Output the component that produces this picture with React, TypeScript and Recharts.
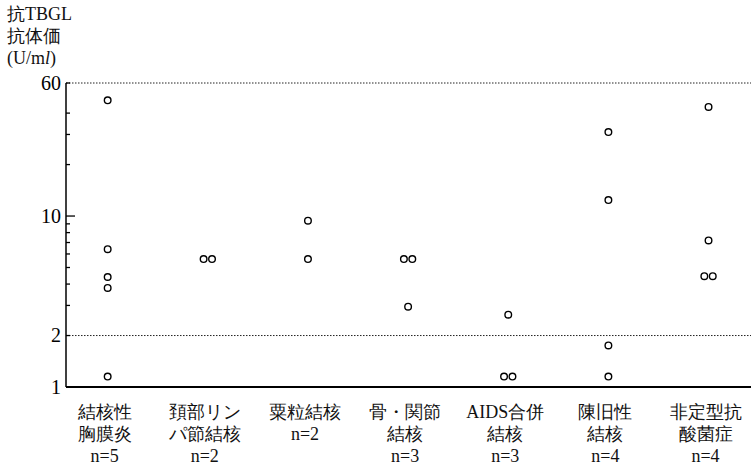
import React from 'react';
import { ScatterChart, Scatter, XAxis, YAxis, ReferenceLine } from 'recharts';

// categories (x axis) and the antibody values
const categories = [
  ['結核性', '胸膜炎', 'n=5'],
  ['頚部リン', 'パ節結核', 'n=2'],
  ['粟粒結核', 'n=2'],
  ['骨・関節', '結核', 'n=3'],
  ['AIDS合併', '結核', 'n=3'],
  ['陳旧性', '結核', 'n=4'],
  ['非定型抗', '酸菌症', 'n=4'],
];

const pleurisy = [47.5, 6.4, 4.4, 3.8, 1.15];
const cervicalLymph = [5.6, 5.6];
const miliary = [9.4, 5.6];
const boneJoint = [5.6, 5.6, 2.95];
const aids = [2.65, 1.15, 1.15];
const oldTb = [31, 12.4, 1.75, 1.15];
const atypical = [43.5, 7.2, 4.45, 4.45];

const groups = [pleurisy, cervicalLymph, miliary, boneJoint, aids, oldTb, atypical];

const yTicks = [1, 2, 3, 4, 5, 6, 7, 8, 9, 10, 20, 30, 40, 60];
const yLabels = [1, 2, 10, 60];
const rightTicks = [10];
const cutoffs = [60, 2];

const SERIF = 'Liberation Serif';

// tied values in one column are drawn side by side
const SPREAD = 0.042;
const points = groups.flatMap((vals, i) => {
  const out: { x: number; y: number }[] = [];
  const seen = new Map<number, number>();
  vals.forEach((v) => seen.set(v, (seen.get(v) || 0) + 1));
  seen.forEach((count, v) => {
    for (let k = 0; k < count; k++) {
      out.push({ x: i + 1 + (k - (count - 1) / 2) * 2 * SPREAD, y: v });
    }
  });
  return out;
});

function YTick(props: any) {
  const { x, y, payload } = props;
  const v = payload.value;
  const len = v === 10 ? 9 : 4;
  return (
    <g>
      <line x1={x} x2={x + len} y1={y} y2={y} stroke="#000" strokeWidth={1.3} />
      {yLabels.includes(v) && (
        <text x={x - 5} y={y} dy="0.34em" textAnchor="end" fontSize={20} style={{ fontFamily: SERIF }} fill="#000">
          {v}
        </text>
      )}
    </g>
  );
}

// the right frame is cut off in the scan, only its 10 tick shows
function RightTick(props: any) {
  const { x, y } = props;
  return <line x1={x - 4} x2={x} y1={y} y2={y} stroke="#000" strokeWidth={1.5} />;
}

function XTick(props: any) {
  const { x, y, payload } = props;
  const lines = categories[payload.value - 1] || [];
  return (
    <g>
      {lines.map((t, j) => (
        <text
          key={j}
          x={x - 3}
          y={y + 31 + j * 22}
          textAnchor="middle"
          fontSize={18}
          style={{ fontFamily: SERIF }}
          fill="#111"
        >
          {t}
        </text>
      ))}
    </g>
  );
}

function Dot(props: any) {
  const { cx, cy } = props;
  return <circle cx={cx} cy={cy} r={3.3} fill="#fff" stroke="#000" strokeWidth={1.4} />;
}

export default function App() {
  return (
    <div style={{ position: 'absolute', left: 0, top: 0, width: 751, height: 465, background: '#fff' }}>
      <div
        style={{
          position: 'absolute',
          left: 7,
          top: 3,
          fontFamily: SERIF,
          fontSize: 18,
          lineHeight: '22px',
          color: '#111',
        }}
      >
        <div>抗TBGL</div>
        <div>抗体価</div>
        <div>
          (U/m<i>l</i>)
        </div>
      </div>
      <ScatterChart width={751} height={465} margin={{ top: 83, right: 0, bottom: 0, left: 0 }}>
        <XAxis
          dataKey="x"
          type="number"
          domain={[0.584, 7.424]}
          ticks={[1, 2, 3, 4, 5, 6, 7]}
          interval={0}
          allowDataOverflow
          height={78}
          tickSize={0}
          tickMargin={0}
          tickLine={false}
          axisLine={{ stroke: '#000', strokeWidth: 2 }}
          tick={<XTick />}
        />
        <YAxis
          yAxisId="l"
          dataKey="y"
          type="number"
          scale="log"
          domain={[1, 60]}
          ticks={yTicks}
          interval={0}
          allowDataOverflow
          width={66}
          tickSize={0}
          tickMargin={0}
          tickLine={false}
          axisLine={{ stroke: '#000', strokeWidth: 1.5 }}
          tick={<YTick />}
        />
        <YAxis
          yAxisId="r"
          orientation="right"
          type="number"
          scale="log"
          domain={[1, 60]}
          ticks={rightTicks}
          interval={0}
          allowDataOverflow
          width={0}
          tickSize={0}
          tickMargin={0}
          tickLine={false}
          axisLine={false}
          tick={<RightTick />}
        />
        {cutoffs.map((c) => (
          <ReferenceLine key={c} yAxisId="l" y={c} stroke="#222" strokeDasharray="1.5 1.5" strokeWidth={1} />
        ))}
        <Scatter yAxisId="l" data={points} shape={<Dot />} isAnimationActive={false} />
      </ScatterChart>
    </div>
  );
}
